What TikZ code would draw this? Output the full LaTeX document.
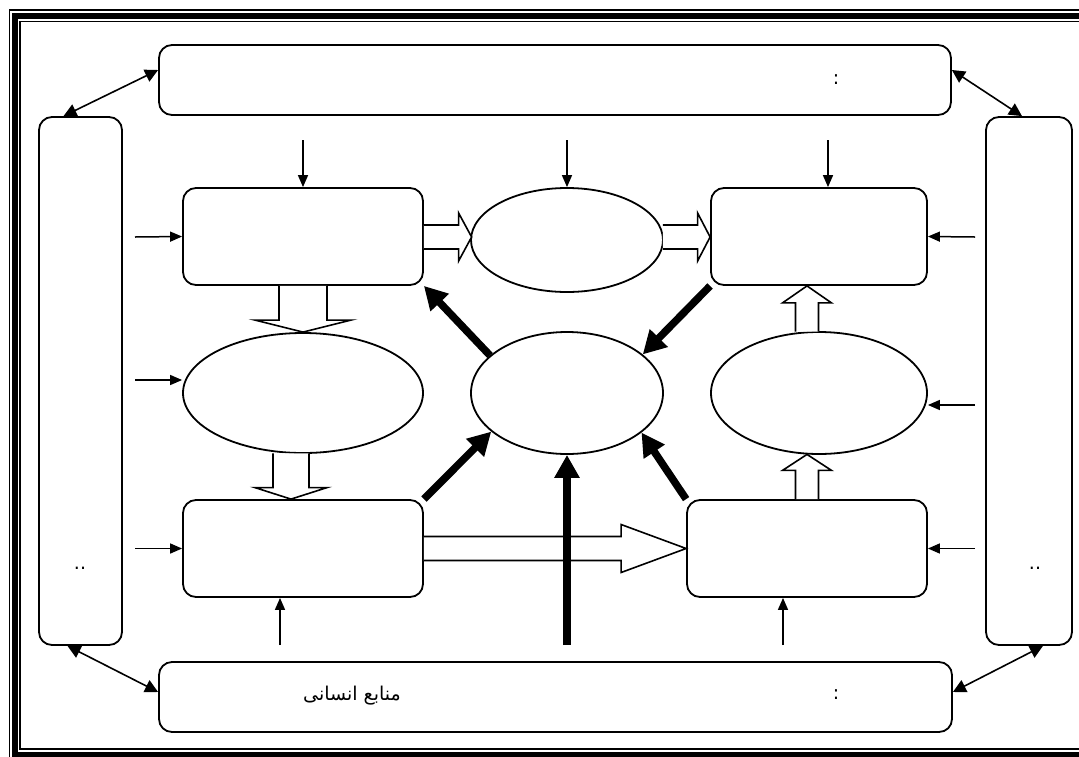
\documentclass[tikz,border=0pt]{standalone}
\usepackage{fontspec}
\usetikzlibrary{arrows.meta,calc,shapes.geometric}
\TeXXeTstate=1
\newfontfamily\arabicfont[Script=Arabic]{DejaVu Sans}

% hollow block arrow: #1 tail, #2 tip, #3 shaft half width, #4 head half width, #5 head length
\newcommand\blockarrow[5]{%
  \coordinate (neck) at ($(#2)!#5!(#1)$);
  \draw[blockline] ($(#1)!#3!90:(#2)$) -- ($(neck)!#3!90:(#2)$) --
    ($(neck)!#4!90:(#2)$) -- (#2) -- ($(neck)!#4!-90:(#2)$) --
    ($(neck)!#3!-90:(#2)$) -- ($(#1)!#3!-90:(#2)$);
}

\begin{document}
\begin{tikzpicture}[x=1pt,y=-1pt,
  rbox/.style={draw,line width=1.8pt,rounded corners=13pt,inner sep=0pt,fill=white},
  oval/.style={draw,ellipse,line width=1.8pt,inner sep=0pt,fill=white},
  blockline/.style={draw,line width=1.6pt,fill=white,line join=miter},
  inarrow/.style={line width=1.5pt,-{Triangle[length=12pt,width=10pt]}},
  linkarrow/.style={line width=1.6pt,{Triangle[length=13pt,width=13pt]}-{Triangle[length=13pt,width=13pt]}},
  heavyarrow/.style={line width=7.5pt,-{Triangle[length=23pt,width=24pt]}},
  label/.style={font=\arabicfont\fontsize{19pt}{22pt}\selectfont,inner sep=0pt}]

\useasboundingbox (0,0) rectangle (1079,756);
\clip (0,0) rectangle (1079,756);

% page frame: thin, thick, thin
\draw[line width=1.3pt] (9.3,10) rectangle (1095,770);
\draw[line width=6pt] (15.3,16.3) rectangle (1089,754.5);
\draw[line width=1.3pt] (20,21.5) rectangle (1083,749);

% outer ring of boxes
\node[rbox,minimum width=792pt,minimum height=70pt] (top) at (555,80) {};
\node[rbox,minimum width=793pt,minimum height=70pt] (bot) at (555.5,697) {};
\node[rbox,minimum width=83pt,minimum height=528pt] (lft) at (80.5,381) {};
\node[rbox,minimum width=86pt,minimum height=528pt] (rgt) at (1029,381) {};

\node[label] (topcolon) at (836,80) {:};
\node[label] (botcolon) at (836,695) {:};
\node[label] (botlabel) at (352,696) {\beginR منابع انسانی\endR};
\node[label] (lftdots) at (80,568) {..};
\node[label] (rgtdots) at (1035,568) {..};

% inner boxes and ovals
\node[rbox,minimum width=240pt,minimum height=97pt] (A) at (303,236.5) {};
\node[rbox,minimum width=216pt,minimum height=97pt] (C) at (819,236.5) {};
\node[rbox,minimum width=240pt,minimum height=97pt] (D) at (303,548.5) {};
\node[rbox,minimum width=240pt,minimum height=97pt] (F) at (807,548.5) {};
\node[oval,minimum width=192pt,minimum height=104pt] (E1) at (567,240) {};
\node[oval,minimum width=240pt,minimum height=120pt] (E2) at (303,393) {};
\node[oval,minimum width=192pt,minimum height=122pt] (E0) at (567,393) {};
\node[oval,minimum width=216pt,minimum height=122pt] (E3) at (819,393) {};

% links between the outer boxes
\draw[linkarrow] ($(top.west)+(0,-10)$) -- ($(lft.north)+(-17,0)$);
\draw[linkarrow] ($(top.east)+(0,-10)$) -- ($(rgt.north)+(-7,0)$);
\draw[linkarrow] ($(lft.south)+(-13,0)$) -- ($(bot.west)+(0,-5)$);
\draw[linkarrow] ($(bot.east)+(0,-5)$) -- ($(rgt.south)+(14,0)$);

% hollow flow arrows
\coordinate (a1t) at ($(A.east)+(0,0.5)$);
\coordinate (a1h) at ($(E1.west)+(1.5,-3)$);
\blockarrow{a1t}{a1h}{12pt}{24pt}{13pt}
\coordinate (a2t) at ($(E1.east)+(-1,-3)$);
\coordinate (a2h) at ($(C.west)+(0,0.5)$);
\blockarrow{a2t}{a2h}{12pt}{24pt}{12.5pt}
\coordinate (a3t) at (A.south);
\coordinate (a3h) at (E2.north);
\blockarrow{a3t}{a3h}{24pt}{48pt}{12pt}
\coordinate (a4t) at ($(E2.south)+(-12,-0.5)$);
\coordinate (a4h) at ($(D.north)+(-12,0)$);
\blockarrow{a4t}{a4h}{18pt}{36pt}{11.5pt}
\coordinate (a5t) at (D.east);
\coordinate (a5h) at (F.west);
\blockarrow{a5t}{a5h}{12pt}{24pt}{65pt}
\coordinate (a6t) at ($(E3.north)+(-12,0.5)$);
\coordinate (a6h) at ($(C.south)+(-12,0)$);
\blockarrow{a6t}{a6h}{11.5pt}{24.5pt}{17pt}
\coordinate (a7t) at (F.north);
\coordinate (a7h) at ($(E3.south)+(-12,-0.5)$);
\blockarrow{a7t}{a7h}{11.5pt}{24.5pt}{16pt}

% thin input arrows
\coordinate (inA) at (303,140);
\coordinate (inE1) at (567,140);
\coordinate (inC) at (828,140);
\coordinate (inAl) at (135,237);
\coordinate (inE2) at (135,380);
\coordinate (inD) at (135,548.5);
\coordinate (inCr) at (975,237);
\coordinate (inE3) at (975,405);
\coordinate (inFr) at (975,548.5);
\coordinate (inDb) at (280,645);
\coordinate (inFb) at (783,645);
\draw[inarrow] (inA) -- (A.north);
\draw[inarrow] (inE1) -- (E1.north);
\draw[inarrow] (inC) -- (inC |- C.north);
\draw[inarrow] (inAl) -- (A.west);
\draw[inarrow] (inE2) -- (inE2 -| E2.west);
\draw[inarrow] (inD) -- (D.west);
\draw[inarrow] (inCr) -- (C.east);
\draw[inarrow] (inE3) -- (inE3 -| E3.east);
\draw[inarrow] (inFr) -- (F.east);
\draw[inarrow] (inDb) -- (inDb |- D.south);
\draw[inarrow] (inFb) -- (inFb |- F.south);

% heavy arrows around the centre oval
\coordinate (inE0) at (567,645);
\draw[heavyarrow] (E0.154) -- (A.south east);
\draw[heavyarrow] (C.south west) -- (E0.27);
\draw[heavyarrow] (D.north east) -- (E0.207);
\draw[heavyarrow] (F.north west) -- (E0.332);
\draw[heavyarrow] (inE0) -- (E0.south);
\end{tikzpicture}
\end{document}
